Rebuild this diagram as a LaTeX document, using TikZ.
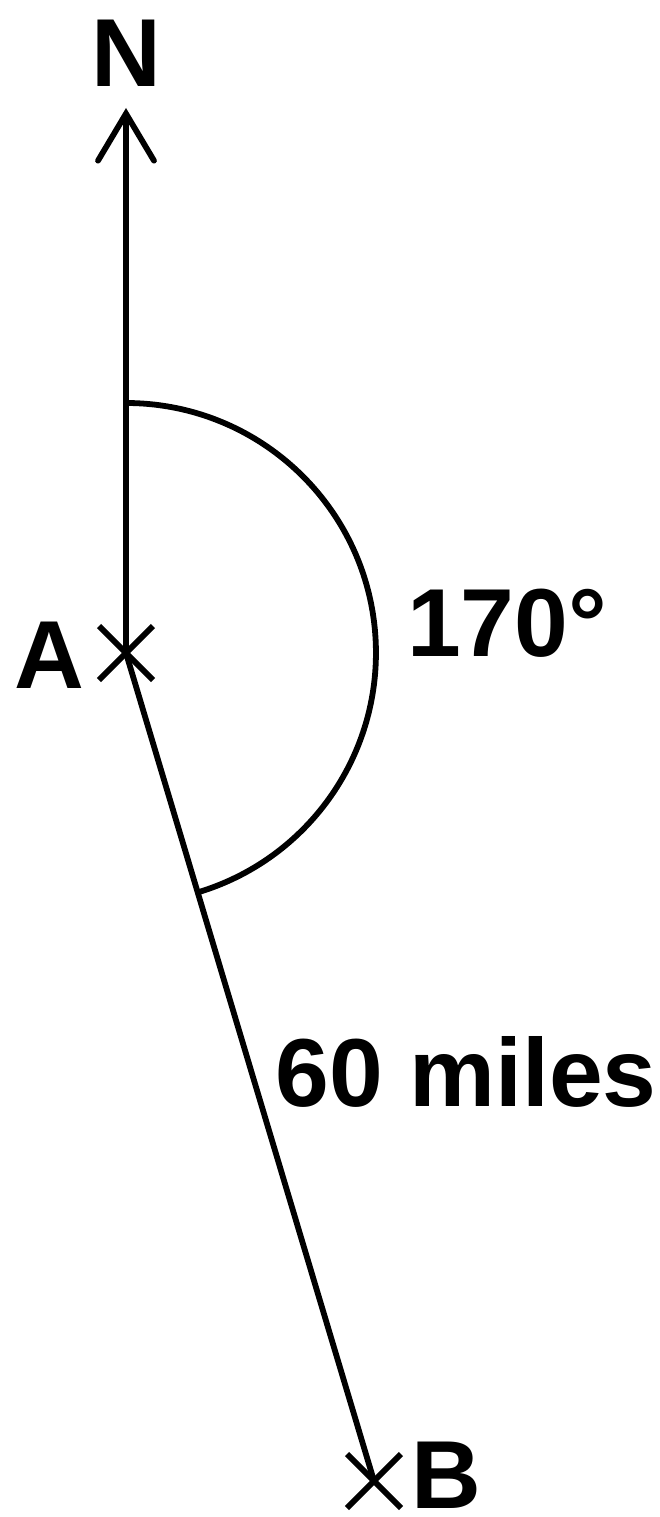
\documentclass[tikz,border=0pt]{standalone}
\usepackage{fontspec}
\setmainfont{Liberation Sans}
\usetikzlibrary{arrows.meta}
\begin{document}
\begin{tikzpicture}[x=0.02cm,y=-0.02cm,line width=3.3pt,
    lbl/.style={font=\fontsize{55}{60}\selectfont\bfseries,inner sep=0,anchor=base}]
    \useasboundingbox (0,0) rectangle (659,1517);
    \coordinate (A) at (126,653);
    \coordinate (B) at (374,1481);
    \coordinate (N) at (126,108);
    \draw [-{Straight Barb[length=0.94cm,width=1.12cm,line cap=round]}] (A) -- (N);
    \draw (A) -- (B);
    \draw (A) ++(0,-250) arc [start angle=90,end angle=-73.3,radius=5cm];
    \foreach \p in {A,B}
    \draw (\p) ++(-27,-27) -- ++(54,54) (\p) ++(27,-27) -- ++(-54,54);
    \node [lbl] (n) at (126,87) {N};
    \node [lbl] (a) at (49.5,688) {A};
    \node [lbl] (ang) at (507,656) {170°};
    \node [lbl] (dist) at (466,1106) {60 miles};
    \node [lbl] (b) at (446,1508) {B};
\end{tikzpicture}
\end{document}
